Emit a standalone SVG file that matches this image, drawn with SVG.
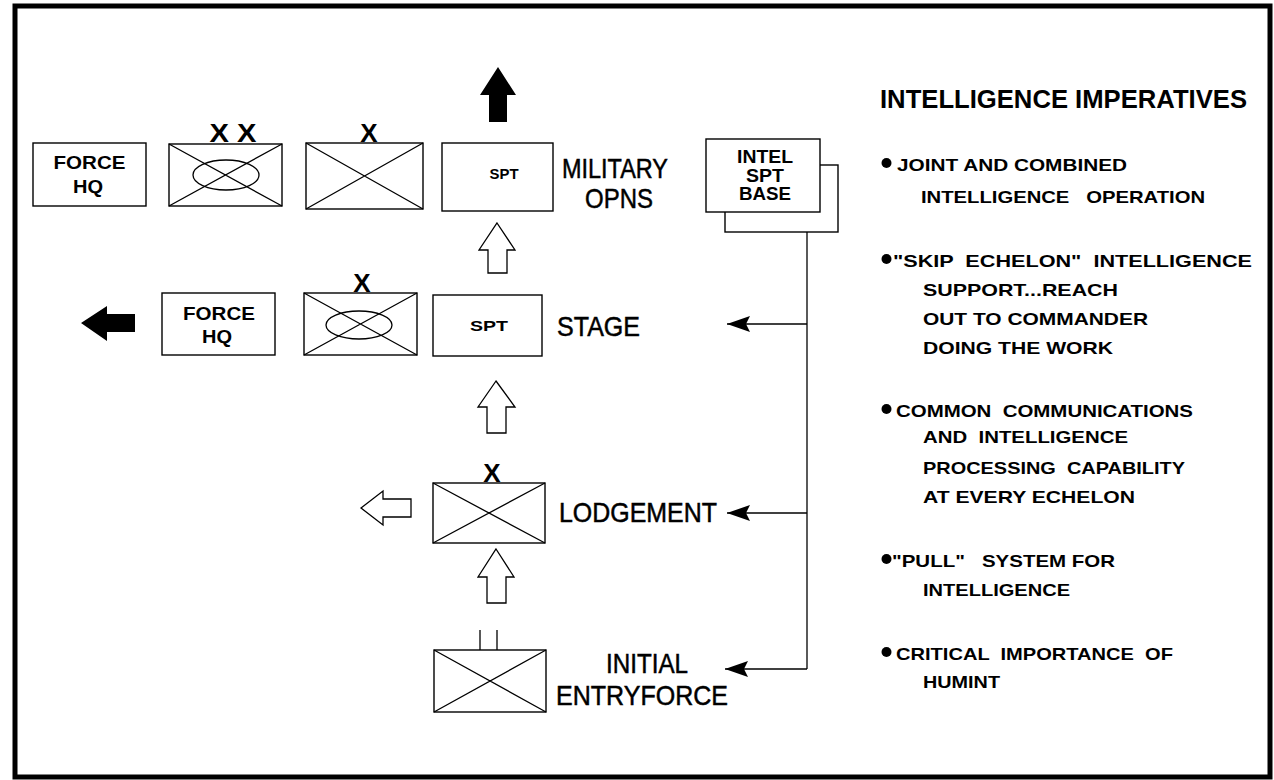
<svg xmlns="http://www.w3.org/2000/svg" width="1274" height="780" viewBox="0 0 1274 780">
<style>
  .box{fill:#fff;stroke:#000;stroke-width:1.4}
  .thin{fill:none;stroke:#000;stroke-width:1.3}
  .hollow{fill:#fff;stroke:#000;stroke-width:1.3;stroke-linejoin:miter}
  .solid{fill:#000;stroke:none}
  .t{font-family:"Liberation Sans",Arial,Helvetica,sans-serif;fill:#000}
  .sym{font-size:18px;font-weight:bold}
  .small{font-size:15px;font-weight:bold}
  .ech{font-size:26px;font-weight:bold}
  .big{font-size:28px;stroke:#000;stroke-width:0.5}
  .title{font-size:25px;font-weight:bold}
  .item{font-size:17px;font-weight:bold}
  .mid{text-anchor:middle}
  .conn{fill:none;stroke:#000;stroke-width:1.3}
</style>
<defs>
  <marker id="ah" markerUnits="userSpaceOnUse" viewBox="0 -9 24 18" refX="23" refY="0" markerWidth="24" markerHeight="18" orient="auto">
    <path d="M0,-8 L23,0 L0,8 L4,0 z" fill="#000"/>
  </marker>
</defs>
<rect x="0" y="0" width="1274" height="780" fill="#fff"/>
<rect id="frame" x="15" y="6" width="1255" height="771" fill="none" stroke="#000" stroke-width="5"/>

<!-- Row 1: military operations -->
<g id="force-hq-1">
  <rect class="box" x="33" y="143" width="113" height="63"/>
  <text class="t sym mid" x="89.5" y="169" textLength="72" lengthAdjust="spacingAndGlyphs">FORCE</text>
  <text class="t sym mid" x="88" y="193" textLength="30" lengthAdjust="spacingAndGlyphs">HQ</text>
</g>
<g id="division-1">
  <rect class="box" x="169" y="144" width="113" height="62"/>
  <path class="thin" d="M169,144 L282,206 M282,144 L169,206"/>
  <ellipse class="thin" cx="226" cy="175" rx="33" ry="15"/>
  <text class="t ech mid" x="233" y="142" textLength="47" lengthAdjust="spacingAndGlyphs">X X</text>
</g>
<g id="brigade-1">
  <rect class="box" x="306" y="143" width="117" height="66"/>
  <path class="thin" d="M306,143 L423,209 M423,143 L306,209"/>
  <text class="t ech mid" x="369" y="142">X</text>
</g>
<g id="spt-1">
  <rect class="box" x="442" y="143" width="111" height="68"/>
  <text class="t small mid" x="504" y="179" textLength="29" lengthAdjust="spacingAndGlyphs">SPT</text>
</g>
<g id="label-military-opns">
  <text class="t big" x="562" y="178" textLength="106" lengthAdjust="spacingAndGlyphs">MILITARY</text>
  <text class="t big" x="585" y="208" textLength="68" lengthAdjust="spacingAndGlyphs">OPNS</text>
</g>
<g id="arrow-up-black">
  <polygon class="solid" points="498,67 516,95 507,95 507,122 489,122 489,95 480,95"/>
</g>

<!-- Intel support base -->
<g id="intel-spt-base">
  <rect class="box" x="725" y="165" width="113" height="67"/>
  <rect class="box" x="706" y="139" width="114" height="73"/>
  <text class="t sym mid" x="765" y="163" textLength="56" lengthAdjust="spacingAndGlyphs">INTEL</text>
  <text class="t sym mid" x="765" y="182" textLength="38" lengthAdjust="spacingAndGlyphs">SPT</text>
  <text class="t sym mid" x="765" y="200" textLength="52" lengthAdjust="spacingAndGlyphs">BASE</text>
</g>

<g id="arrow-up-hollow-1">
  <polygon class="hollow" points="497,223 515,250 507,250 507,273 488,273 488,250 479,250"/>
</g>

<!-- Row 2: stage -->
<g id="arrow-left-black">
  <polygon class="solid" points="81,323 107,306 107,314 135,314 135,332 107,332 107,341"/>
</g>
<g id="force-hq-2">
  <rect class="box" x="162" y="293" width="113" height="62"/>
  <text class="t sym mid" x="219" y="320" textLength="72" lengthAdjust="spacingAndGlyphs">FORCE</text>
  <text class="t sym mid" x="217" y="343" textLength="30" lengthAdjust="spacingAndGlyphs">HQ</text>
</g>
<g id="brigade-2">
  <rect class="box" x="304" y="293" width="113" height="62"/>
  <path class="thin" d="M304,293 L417,355 M417,293 L304,355"/>
  <ellipse class="thin" cx="359" cy="325" rx="33" ry="14"/>
  <text class="t ech mid" x="362" y="292">X</text>
</g>
<g id="spt-2">
  <rect class="box" x="433" y="295" width="109" height="61"/>
  <text class="t small mid" x="489" y="331" textLength="38" lengthAdjust="spacingAndGlyphs">SPT</text>
</g>
<g id="label-stage">
  <text class="t big" x="557" y="336" textLength="83" lengthAdjust="spacingAndGlyphs">STAGE</text>
</g>

<g id="arrow-up-hollow-2">
  <polygon class="hollow" points="496,381 515,407 506,407 506,433 487,433 487,407 478,407"/>
</g>

<!-- Row 3: lodgement -->
<g id="arrow-left-hollow">
  <polygon class="hollow" points="361,508 383,491 383,499 411,499 411,517 383,517 383,525"/>
</g>
<g id="brigade-lodgement">
  <rect class="box" x="433" y="483" width="112" height="60"/>
  <path class="thin" d="M433,483 L545,543 M545,483 L433,543"/>
  <text class="t ech mid" x="492" y="482">X</text>
</g>
<g id="label-lodgement">
  <text class="t big" x="559" y="522" textLength="158" lengthAdjust="spacingAndGlyphs">LODGEMENT</text>
</g>

<g id="arrow-up-hollow-3">
  <polygon class="hollow" points="496,549 514,577 506,577 506,603 487,603 487,577 478,577"/>
</g>

<!-- Row 4: initial entry force -->
<g id="battalion-initial">
  <rect class="box" x="434" y="650" width="112" height="62"/>
  <path class="thin" d="M434,650 L546,712 M546,650 L434,712"/>
  <path class="thin" d="M480,630 L480,650 M497,630 L497,650"/>
</g>
<g id="label-initial-entry">
  <text class="t big" x="606" y="673" textLength="82" lengthAdjust="spacingAndGlyphs">INITIAL</text>
  <text class="t big" x="556" y="705" textLength="172" lengthAdjust="spacingAndGlyphs">ENTRYFORCE</text>
</g>

<!-- Connectors -->
<g id="connectors">
  <path class="conn" d="M807,232 L807,669"/>
  <path class="conn" d="M807,324 L727,324" marker-end="url(#ah)"/>
  <path class="conn" d="M807,513 L727,513" marker-end="url(#ah)"/>
  <path class="conn" d="M807,669 L725,669" marker-end="url(#ah)"/>
</g>

<!-- Intelligence imperatives -->
<g id="imperatives">
  <text class="t title" x="880" y="108" textLength="367" lengthAdjust="spacingAndGlyphs">INTELLIGENCE IMPERATIVES</text>

  <circle cx="886.5" cy="163" r="5"/>
  <text class="t item" x="897" y="171" textLength="230" lengthAdjust="spacingAndGlyphs">JOINT AND COMBINED</text>
  <text class="t item" x="921" y="203" textLength="284" lengthAdjust="spacingAndGlyphs" xml:space="preserve">INTELLIGENCE   OPERATION</text>

  <circle cx="886.5" cy="259" r="5"/>
  <text class="t item" x="893" y="267" textLength="359" lengthAdjust="spacingAndGlyphs" xml:space="preserve">"SKIP  ECHELON"  INTELLIGENCE</text>
  <text class="t item" x="923" y="296" textLength="195" lengthAdjust="spacingAndGlyphs">SUPPORT...REACH</text>
  <text class="t item" x="923" y="325" textLength="225" lengthAdjust="spacingAndGlyphs">OUT TO COMMANDER</text>
  <text class="t item" x="923" y="354" textLength="190" lengthAdjust="spacingAndGlyphs">DOING THE WORK</text>

  <circle cx="886.5" cy="409" r="5"/>
  <text class="t item" x="896" y="417" textLength="297" lengthAdjust="spacingAndGlyphs" xml:space="preserve">COMMON  COMMUNICATIONS</text>
  <text class="t item" x="923" y="443" textLength="205" lengthAdjust="spacingAndGlyphs" xml:space="preserve">AND  INTELLIGENCE</text>
  <text class="t item" x="923" y="474" textLength="262" lengthAdjust="spacingAndGlyphs" xml:space="preserve">PROCESSING  CAPABILITY</text>
  <text class="t item" x="923" y="503" textLength="212" lengthAdjust="spacingAndGlyphs">AT EVERY ECHELON</text>

  <circle cx="886.5" cy="559" r="5"/>
  <text class="t item" x="892" y="567" textLength="223" lengthAdjust="spacingAndGlyphs" xml:space="preserve">"PULL"   SYSTEM FOR</text>
  <text class="t item" x="923" y="596" textLength="147" lengthAdjust="spacingAndGlyphs">INTELLIGENCE</text>

  <circle cx="886.5" cy="652" r="5"/>
  <text class="t item" x="896" y="660" textLength="277" lengthAdjust="spacingAndGlyphs" xml:space="preserve">CRITICAL  IMPORTANCE  OF</text>
  <text class="t item" x="923" y="688" textLength="77" lengthAdjust="spacingAndGlyphs">HUMINT</text>
</g>
</svg>
